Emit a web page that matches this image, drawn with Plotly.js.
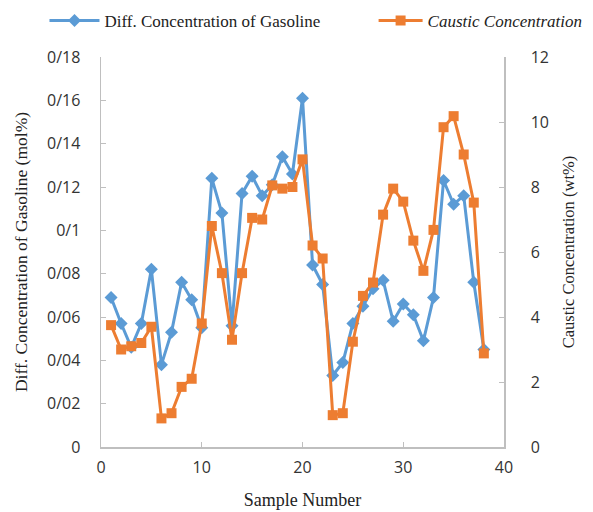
<!DOCTYPE html>
<html><head><meta charset="utf-8">
<script src="https://cdn.plot.ly/plotly-3.0.1.min.js"></script>
<style>html,body{margin:0;padding:0;background:#fff}#chart{width:593px;height:512px}</style>
</head><body><div id="chart"></div>
<script>
const samples = [1,2,3,4,5,6,7,8,9,10,11,12,13,14,15,16,17,18,19,20,21,22,23,24,25,26,27,28,29,30,31,32,33,34,35,36,37,38];
const gasoline = [0.069,0.057,0.046,0.057,0.082,0.038,0.053,0.076,0.068,0.055,0.124,0.108,0.056,0.117,0.125,0.116,0.121,0.134,0.126,0.161,0.084,0.075,0.033,0.039,0.057,0.065,0.073,0.077,0.058,0.066,0.061,0.049,0.069,0.123,0.112,0.116,0.076,0.045];
const caustic = [3.75,3.0,3.1,3.2,3.7,0.88,1.04,1.85,2.1,3.8,6.8,5.35,3.3,5.35,7.05,7.0,8.05,7.95,8.0,8.85,6.2,5.8,0.98,1.04,3.24,4.65,5.06,7.15,7.95,7.55,6.35,5.42,6.68,9.84,10.18,9.0,7.52,2.88];
const leftTickVals = [0,0.02,0.04,0.06,0.08,0.1,0.12,0.14,0.16,0.18];
const leftTickText = ['0','0/02','0/04','0/06','0/08','0/1','0/12','0/14','0/16','0/18'];
const rightTickVals = [0,2,4,6,8,10,12];
const xTickVals = [0,10,20,30,40];

const blue = '#5b9bd5', orange = '#ed7d31';
const tickFont = {family:'Open Sans, Liberation Sans, sans-serif', size:16, color:'#333'};
const serif = 'Liberation Serif, Times New Roman, serif';

const traces = [
 {x:samples, y:gasoline, name:'Diff. Concentration of Gasoline', type:'scatter', mode:'lines+markers',
  line:{color:blue,width:3}, marker:{symbol:'diamond',size:10,color:blue}, yaxis:'y', legend:'legend'},
 {x:samples, y:caustic, name:'<i>Caustic Concentration</i>', type:'scatter', mode:'lines+markers',
  line:{color:orange,width:3}, marker:{symbol:'square',size:10,color:orange}, yaxis:'y2', legend:'legend2'}
];
const axLine = '#bfbfbf';
const legFont = {family:serif, size:17, color:'#222'};
const layout = {
 width:593, height:512,
 margin:{l:101, r:89, t:57, b:65},
 paper_bgcolor:'#fff', plot_bgcolor:'#fff',
 showlegend:true,
 legend:{orientation:'h', xref:'container', yref:'container', x:0.075, y:0.994, xanchor:'left', yanchor:'top',
   font:legFont, itemwidth:50, bgcolor:'rgba(0,0,0,0)'},
 legend2:{orientation:'h', xref:'container', yref:'container', x:0.63, y:0.994, xanchor:'left', yanchor:'top',
   font:legFont, itemwidth:44, bgcolor:'rgba(0,0,0,0)'},
 xaxis:{range:[0,40], tickvals:xTickVals, ticks:'inside', ticklen:5, tickcolor:axLine,
   showline:true, linecolor:axLine, linewidth:1.5, showgrid:false, zeroline:false,
   tickfont:tickFont, ticklabelstandoff:5,
   title:{text:'Sample Number', font:{family:serif, size:18, color:'#222'}, standoff:16}},
 yaxis:{range:[0,0.18], tickvals:leftTickVals, ticktext:leftTickText, ticks:'inside', ticklen:5, tickcolor:axLine,
   showline:true, linecolor:axLine, linewidth:1.5, showgrid:false, zeroline:false,
   tickfont:tickFont, ticklabelstandoff:16,
   title:{text:'Diff. Concentration of Gasoline (mol%)', font:{family:serif, size:17.5, color:'#222'}, standoff:15}},
 yaxis2:{range:[0,12], tickvals:rightTickVals, overlaying:'y', side:'right', ticks:'inside', ticklen:5, tickcolor:axLine,
   showline:true, linecolor:axLine, linewidth:1.5, showgrid:false, zeroline:false,
   tickfont:tickFont, ticklabelstandoff:22,
   title:{text:'Caustic Concentration (wt%)', font:{family:serif, size:16.5, color:'#222'}, standoff:14}}
};
Plotly.newPlot('chart', traces, layout, {staticPlot:true, displayModeBar:false});
</script></body></html>
